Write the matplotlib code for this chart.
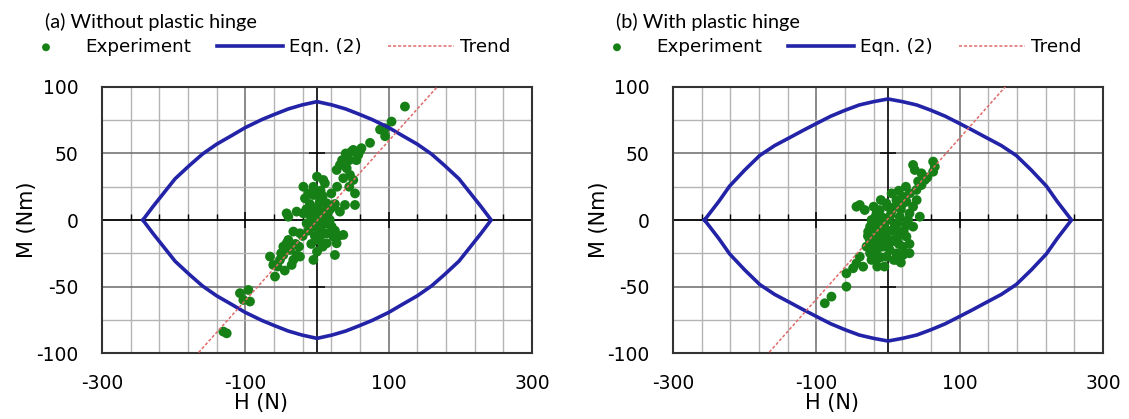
import numpy as np
import matplotlib
matplotlib.use('Agg')
import matplotlib.pyplot as plt

matplotlib.rcParams['axes.unicode_minus'] = False

# ==============================================================================
# Data
# ==============================================================================
# Eqn. (2) envelope, upper-left quarter only (H in N, M in Nm); mirrored below
eqn_a_H = [-243, -229, -215, -198, -178, -160, -140, -119, -100, -77, -59, -40, -21, 0]
eqn_a_M = [0, 10, 19.5, 31, 41, 49.5, 57, 63.5, 69.5, 75.5, 79.5, 83.5, 86.5, 89]
eqn_b_H = [-256, -236, -221, -200, -179, -158, -137, -118, -100, -80, -60, -40, -20, 0]
eqn_b_M = [0, 14, 25.5, 37.5, 48.5, 56, 62, 67.5, 72.5, 78, 82.5, 86.5, 89, 91]

# linear trend (slope, intercept)
trend_a = (0.60, -0.5)
trend_b = (0.606, 1.0)

# experiment points (H, M)
exp_a = [(122.7, 85.3), (104, 74), (95, 69), (88, 68), (95, 63), (74, 58), (62, 54),
         (50.6, 52.7), (48, 51.4), (57.6, 48.9), (32, 41.4), (41.4, 38.9), (27.4, 37.6),
         (46, 33.9), (36.7, 31.4), (50.6, 30.1), (0, 32.6), (-19, 25), (8.8, 30.1),
         (11, 27.6), (53, 20), (53, 11.3), (39, 11.3), (-16.8, 16.3), (-5, 18.8),
         (4.2, 15), (13.5, 12.6), (22.8, 10), (32, 6.3), (15.8, 6.3), (-42.4, 5),
         (-40, 2.5), (-28.4, 6.3), (-19, 5), (-9.8, 3.8), (0, 2.5), (9, 1.3), (16, -1.2),
         (-33, -8.7), (-23.8, -10), (-5, -5), (4.2, -7.5), (13.5, -10), (22.8, -12.5),
         (36.7, -11.2), (27.4, -17.5), (13.5, -17.5), (1.8, -15), (-42.4, -17.5),
         (-47, -20), (-37.7, -22.5), (-28.4, -26.3), (-47, -26.3), (-51.7, -30),
         (-65.6, -27.5), (-61, -33.8), (-58.6, -42.5), (-35.4, -33.8), (-23.8, -27.5),
         (-5, -30), (0, -23.8), (25, -26.3), (-107.5, -55), (-95.8, -52.6),
         (-93.5, -61.3), (-102.8, -60.1), (-130.7, -83.9), (-126, -85.2), (1.2, 8.8),
         (10.5, 6.3), (-7, 0), (2, -2.5), (11.2, 4), (18, 0), (-14.5, -2.5), (20.5, -5),
         (5, 22), (-10, 12), (28, 25), (20, 20), (-55, -35), (-50, -25), (-40, -15),
         (-30, -18), (-25, -20), (-33, -30), (-45, -38), (-20, -12), (-12, -8),
         (-8, -18), (5, -12), (8, -20), (30, -12), (25, -8), (18, 8), (25, 12), (8, 18),
         (-2, 8), (3, 12), (-12, 20), (-5, 25), (45, 45), (40, 50), (55, 45), (35, 45),
         (45, 25), (60, 52), (-3, -12), (10, -3), (-15, 8)]
exp_b = [(35, 41.4), (37.4, 37.6), (46.7, 35.1), (63, 43.9), (65.3, 40.1), (63, 36.3),
         (51.4, 30.1), (46.7, 26.3), (39.7, 22.6), (30.4, 20.1), (21, 17.5), (55, 32),
         (42, 29), (-39.4, 11.3), (-32.4, 7.5), (-44, 10), (-2.2, 12.5), (11.8, 15),
         (25.7, 13.8), (35, 10), (44.4, 2.5), (-16, 5), (-23, 0), (-11.5, -2.5),
         (4.8, 6.3), (16.4, 2.5), (25.7, -3.8), (11.8, -7.5), (-2.2, -10), (-16, -12.5),
         (-25.4, -15), (-30, -20), (-20.7, -20), (-6.8, -20), (2.5, -22.6), (11.8, -25.1),
         (21, -26.3), (7.2, -15), (25.7, -12.5), (-11.5, 7.5), (0, 0), (9.5, -3.8),
         (-4.5, -6.3), (-18.4, -6.3), (-27.7, -8.8), (4.8, -16.3), (21, -20.1),
         (-2.2, -15), (5, 20), (18, 8), (30, 5), (-8, 2), (-14, -16), (15, -12),
         (-10, -28), (30, -18), (-20, -27), (8, -30), (-5, -35), (-15, -35),
         (-39.4, -27.6), (-44, -32.6), (-34.7, -35.1), (-23, -30), (-13.8, -28.8),
         (-2.2, -27.6), (-48.7, -36.3), (-58, -40.1), (-58, -50.1), (-78.9, -57.6),
         (-88.2, -62.6), (-25, -5), (-20, 10), (-10, 15), (0, 10), (10, 10), (20, 12),
         (28, 0), (22, -8), (15, -18), (5, -8), (-5, -2), (-15, -22), (-25, -25),
         (-8, -12), (0, -20), (12, -30), (18, -32), (-28, -12), (3, 3), (14, -2),
         (-12, -6), (-18, 2), (30, -25), (35, -5), (40, 15), (15, 22), (25, 25)]

titles = ["(a) Without plastic hinge", "(b) With plastic hinge"]
x_major = [-300, -100, 100, 300]
x_minor = list(range(-260, 300, 40))
y_major = [-100, -50, 0, 50, 100]
y_minor = [-75, -25, 25, 75]

BLUE = '#2323a8'
GREEN = '#168016'
RED = '#e06a6a'


def full_loop(qH, qM):
    """ Mirror the upper-left quarter into a closed envelope """
    upH = list(qH) + [-h for h in reversed(qH[:-1])]
    upM = list(qM) + list(reversed(qM[:-1]))
    H = upH + list(reversed(upH))[1:]
    M = upM + [-m for m in reversed(upM)][1:]
    return H, M


def draw_panel(ax, pts, eqnH, eqnM, trend, title):
    ax.set_xlim(-300, 300)
    ax.set_ylim(-100, 100)
    ax.set_axisbelow(True)
    ax.set_xticks(x_major)
    ax.set_xticks(x_minor, minor=True)
    ax.set_yticks(y_major)
    ax.set_yticks(y_minor, minor=True)
    ax.grid(which='minor', color='#b4b4b4', lw=1.0)
    ax.grid(which='major', color='#6a6a6a', lw=1.1)
    ax.tick_params(which='both', length=0)
    ax.tick_params(axis='x', pad=15, labelsize=13.5)
    ax.tick_params(axis='y', pad=17, labelsize=13.5)
    for s in ax.spines.values():
        s.set_color('#333333')
        s.set_linewidth(1.5)

    # axis lines crossing at the origin
    sx = ax.secondary_xaxis(0.5)
    sx.set_xticks(x_major)
    sx.set_xticks(x_minor, minor=True)
    sx.tick_params(which='major', direction='inout', length=11, width=1.1,
                   labeltop=False, labelbottom=False)
    sx.tick_params(which='minor', direction='out', length=4.5, width=1.0)
    sy = ax.secondary_yaxis(0.5)
    sy.set_yticks([-50, 50])
    sy.set_yticks([], minor=True)
    sy.tick_params(which='major', direction='inout', length=11, width=1.1,
                   labelleft=False, labelright=False)
    for sa in (sx, sy):
        sa.set_zorder(0.8)
        for s in sa.spines.values():
            s.set_color('black')
            s.set_linewidth(1.2)

    H, M = full_loop(eqnH, eqnM)
    H_exp = [p[0] for p in pts]
    M_exp = [p[1] for p in pts]
    ax.scatter(H_exp, M_exp, s=50, color=GREEN, edgecolors='none', zorder=3,
               label='Experiment')
    ax.plot(H, M, color=BLUE, lw=2.6, zorder=4, label='Eqn. (2)',
            solid_joinstyle='round')
    xs = np.array([-300, 300])
    ax.plot(xs, trend[0] * xs + trend[1], color=RED, lw=1.1, dashes=(2.0, 1.3),
            zorder=5, label='Trend')

    ax.set_xlabel('H (N)', fontsize=15)
    ax.xaxis.set_label_coords(0.37, -0.15)
    ax.set_ylabel('M (Nm)', fontsize=15)
    ax.yaxis.set_label_coords(-0.15, 0.5)

    ax.text(-0.133, 1.222, title, transform=ax.transAxes, fontsize=14.3,
            family='Lato', va='baseline', ha='left')
    ax.legend(loc='center left', bbox_to_anchor=(-0.207, 1.15), ncol=3,
              frameon=False, fontsize=13.2, handlelength=3.6,
              handletextpad=0.35, columnspacing=1.4, borderpad=0,
              borderaxespad=0, scatterpoints=1, markerscale=0.8)


fig = plt.figure(figsize=(11.29, 4.19), dpi=100)
ax1 = fig.add_axes([102 / 1129, 66 / 419, 430 / 1129, 266 / 419])
ax2 = fig.add_axes([673 / 1129, 66 / 419, 430 / 1129, 266 / 419])

draw_panel(ax1, exp_a, eqn_a_H, eqn_a_M, trend_a, titles[0])
draw_panel(ax2, exp_b, eqn_b_H, eqn_b_M, trend_b, titles[1])

plt.savefig('out.png', dpi=100)
